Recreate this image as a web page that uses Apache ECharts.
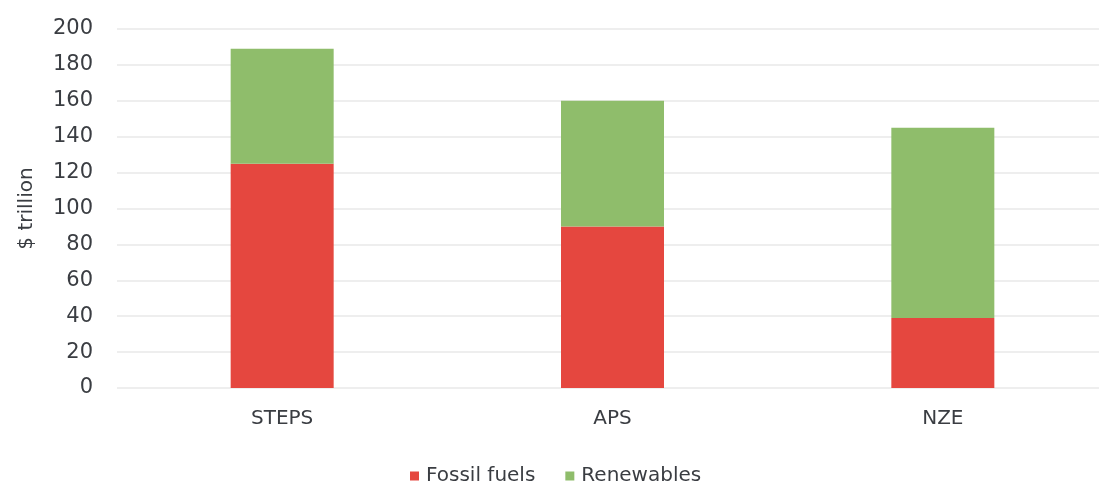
<!DOCTYPE html>
<html>
<head>
<meta charset="utf-8">
<script src="https://cdn.jsdelivr.net/npm/echarts@6/dist/echarts.min.js"></script>
<style>
  html, body { margin: 0; padding: 0; background: #ffffff; }
  #chart { width: 1099px; height: 485px; }
</style>
</head>
<body>
<div id="chart"></div>
<script>
// Scenarios on the x axis
const scenarios = ['STEPS', 'APS', 'NZE'];
// Values in $ trillion
const fossilFuels = [125, 90, 39];
const renewables = [64, 70, 106];
// Y axis scale
const yMin = 0;
const yMax = 200;
const yStep = 20;

const textColor = '#3a3d42';
const fontFamily = '"DejaVu Sans", "Open Sans", sans-serif';

const chart = echarts.init(document.getElementById('chart'), null, { renderer: 'canvas' });

chart.setOption({
  animation: false,
  backgroundColor: '#ffffff',
  textStyle: { fontFamily: fontFamily, color: textColor },
  grid: { left: 117, width: 991, top: 29, bottom: 97, outerBoundsMode: 'none', containLabel: false },
  legend: {
    top: 461,
    left: 405,
    itemWidth: 9,
    itemHeight: 9,
    itemGap: 30,
    icon: 'rect',
    textStyle: { fontSize: 20, color: textColor, fontFamily: fontFamily, padding: [0, 0, 0, 2] },
    data: ['Fossil fuels', 'Renewables']
  },
  xAxis: {
    type: 'category',
    data: scenarios,
    axisLine: { show: false },
    axisTick: { show: false },
    axisLabel: { fontSize: 20, color: textColor, margin: 21 }
  },
  yAxis: {
    type: 'value',
    name: '$ trillion',
    nameLocation: 'middle',
    nameRotate: 90,
    nameGap: 80,
    nameTextStyle: { fontSize: 20, color: textColor },
    min: yMin,
    max: yMax,
    interval: yStep,
    axisLine: { show: false },
    axisTick: { show: false },
    axisLabel: { fontSize: 21, color: textColor, margin: 24 },
    splitLine: { lineStyle: { color: '#e8e8e8', width: 1.5 } }
  },
  series: [
    {
      name: 'Fossil fuels',
      type: 'bar',
      stack: 'total',
      barWidth: 103,
      itemStyle: { color: '#e5473f' },
      data: fossilFuels
    },
    {
      name: 'Renewables',
      type: 'bar',
      stack: 'total',
      barWidth: 103,
      itemStyle: { color: '#8fbd6b' },
      data: renewables
    }
  ]
});
</script>
</body>
</html>
